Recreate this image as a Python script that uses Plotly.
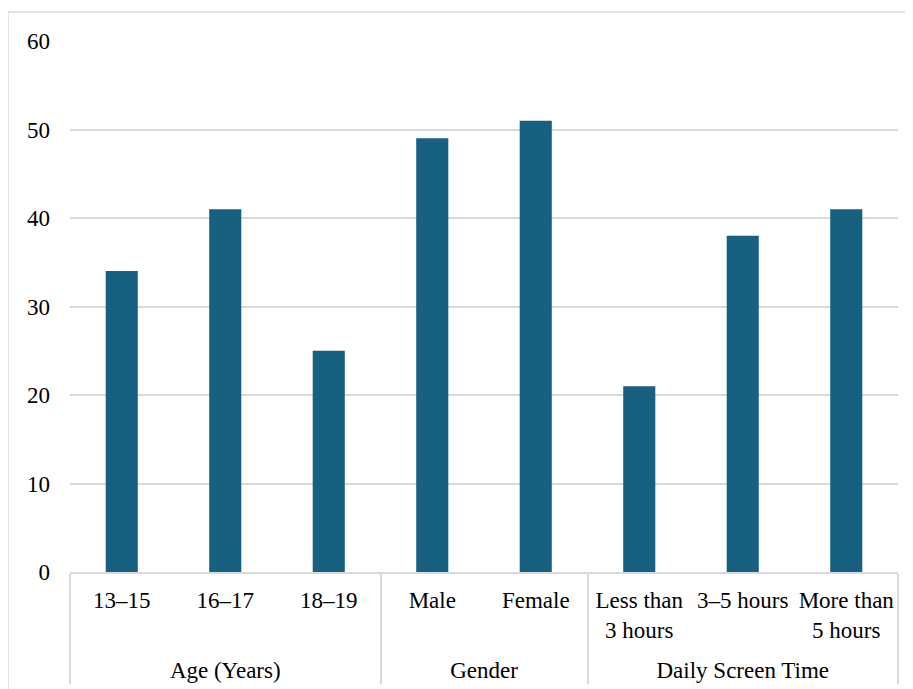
import plotly.graph_objects as go

groups = ["Age (Years)", "Age (Years)", "Age (Years)", "Gender", "Gender",
          "Daily Screen Time", "Daily Screen Time", "Daily Screen Time"]
categories = ["13–15", "16–17", "18–19", "Male", "Female",
              "Less than<br>3 hours", "3–5 hours", "More than<br>5 hours"]
values = [34, 41, 25, 49, 51, 21, 38, 41]
y_ticks = [0, 10, 20, 30, 40, 50, 60]

FONT = "Liberation Serif, Times New Roman, serif"
BAR = "#17607f"
GRID = "#d9d9d9"

# invisible spacer line appended to one label so the group row sits lower
SPACER = "<br><sup><span style='font-size:23px;color:rgba(0,0,0,0)'>.</span></sup>"
cat_labels = [c + SPACER if i == 5 else c for i, c in enumerate(categories)]

fig = go.Figure(go.Bar(
    x=[groups, cat_labels],
    y=values,
    marker=dict(color=BAR, line=dict(width=0)),
))

fig.update_layout(
    width=913, height=689,
    margin=dict(l=62, r=23, t=33, b=125),
    paper_bgcolor="white", plot_bgcolor="white",
    font=dict(family=FONT, size=23, color="#000000"),
    bargap=0.69,
    showlegend=False,
    shapes=[dict(type="rect", xref="paper", yref="paper",
                 x0=-0.0749, x1=1.0169, y0=-0.24, y1=1.0546,
                 line=dict(color=GRID, width=1.5), layer="below")],
)
fig.update_yaxes(
    range=[0, 60], tickvals=y_ticks, showgrid=True, gridcolor=GRID, gridwidth=1.5,
    zeroline=False, showline=False, ticks="", ticklabelstandoff=19,
    tickfont=dict(family=FONT, size=23), automargin=False,
)
fig.update_xaxes(
    type="multicategory", showline=True, linecolor=GRID, linewidth=1.5,
    showdividers=True, dividercolor=GRID, dividerwidth=1.5,
    ticks="", tickangle=0, ticklabelstandoff=7,
    tickfont=dict(family=FONT, size=23), automargin=False,
)

fig.write_html("out.html")
